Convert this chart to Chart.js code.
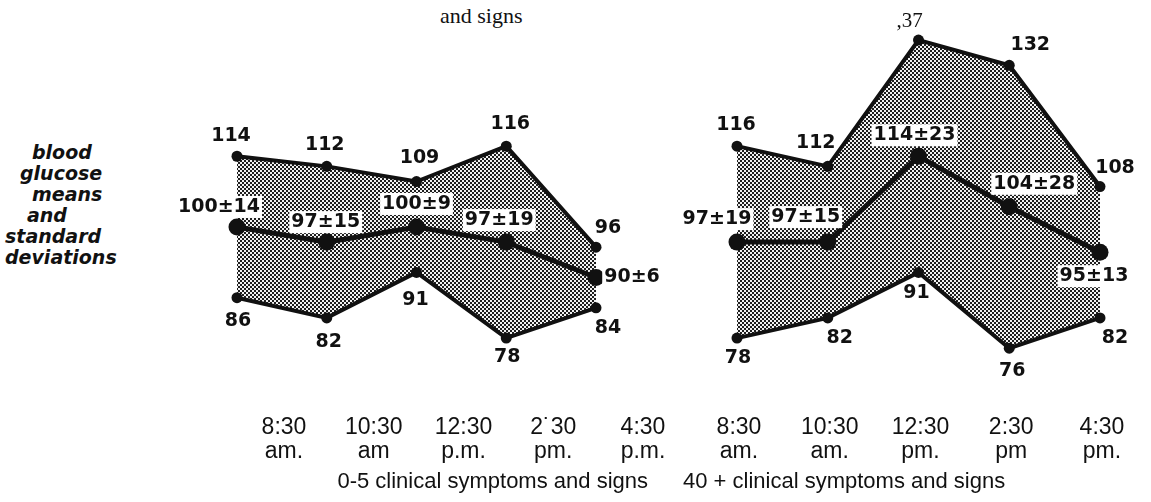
<!DOCTYPE html>
<html lang="en">
<head>
  <meta charset="UTF-8" />
  <title>Blood glucose means and standard deviations</title>
  <script src="https://cdn.jsdelivr.net/npm/chart.js"></script>
  <style>
    body { margin: 0; background: #fff; }
    #wrap { position: relative; width: 1151px; height: 502px; overflow: hidden; }
    #wrap canvas { position: absolute; left: 0; top: 0; }
    .txt { position: absolute; color: #111; white-space: nowrap; }
    .cap { font: 22px "Liberation Sans", Arial, sans-serif; top: 468px; }
    .ylab { font: italic bold 19px "DejaVu Sans", sans-serif; line-height: 21px; }
  </style>
</head>
<body>
  <div id="wrap">
    <div class="txt" style="left:440px; top:3px; font:22px 'Liberation Serif', serif;">and signs</div>

    <!-- left axis caption -->
    <div class="txt ylab" style="left:32px; top:142px;">blood</div>
    <div class="txt ylab" style="left:20px; top:163px;">glucose</div>
    <div class="txt ylab" style="left:32px; top:184px;">means</div>
    <div class="txt ylab" style="left:27px; top:205px;">and</div>
    <div class="txt ylab" style="left:5px; top:226px;">standard</div>
    <div class="txt ylab" style="left:5px; top:247px;">deviations</div>

    <canvas id="leftChart" width="1151" height="502"></canvas>
    <canvas id="rightChart" width="1151" height="502"></canvas>

    <div class="txt cap" style="right:503px;">0-5 clinical symptoms and signs</div>
    <div class="txt cap" style="left:683px;">40 + clinical symptoms and signs</div>
  </div>

  <script>
    // ---- data ----
    const leftTimes = [["8:30", "am."], ["10:30", "am"], ["12:30", "p.m."], ["2\u02D930", "pm."], ["4:30", "p.m."]];
    const rightTimes = [["8:30", "am."], ["10:30", "am."], ["12:30", "pm."], ["2:30", "pm"], ["4:30", "pm."]];

    const leftUpper = [114, 112, 109, 116, 96];
    const leftMean = [100, 97, 100, 97, 90];
    const leftSd = [14, 15, 9, 19, 6];
    const leftLower = [86, 82, 91, 78, 84];

    const rightUpper = [116, 112, 137, 132, 108];
    const rightMean = [97, 97, 114, 104, 95];
    const rightSd = [19, 15, 23, 28, 13];
    const rightLower = [78, 82, 91, 76, 82];
    const rightUpperText = ["116", "112", ",37", "132", "108"];

    // label offsets from each point (px)
    const leftOffsets = {
      upper: [[-6, -20], [-2, -21], [3, -23], [4, -22], [12, -19]],
      mean: [[-18, -20], [-1, -20], [0, -23], [-7, -22], [36, 0]],
      lower: [[1, 23], [2, 24], [-1, 28], [1, 19], [12, 20]]
    };
    const rightOffsets = {
      upper: [[-1, -21], [-12, -23], [-9, -19], [21, -20], [15, -19]],
      mean: [[-20, -23], [-22, -25], [-4, -21], [25, -23], [-6, 24]],
      lower: [[1, 20], [12, 20], [-2, 21], [3, 23], [15, 20]]
    };

    const labelFont = 'bold 19px "DejaVu Sans", sans-serif';

    function stipple() {
      const c = document.createElement("canvas");
      c.width = 4; c.height = 4;
      const g = c.getContext("2d");
      g.fillStyle = "#f2f2f2";
      g.fillRect(0, 0, 4, 4);
      g.fillStyle = "#1e1e1e";
      g.fillRect(0, 0, 2, 2);
      g.fillRect(2, 2, 2, 2);
      return g.createPattern(c, "repeat");
    }

    // draws the value labels next to each point
    const pointLabels = {
      id: "pointLabels",
      afterDatasetsDraw(chart) {
        const ctx = chart.ctx;
        ctx.save();
        ctx.textAlign = "center";
        ctx.textBaseline = "middle";
        chart.data.datasets.forEach((ds, di) => {
          if (!ds.labelText) return;
          const meta = chart.getDatasetMeta(di);
          meta.data.forEach((pt, i) => {
            const txt = ds.labelText[i];
            const [dx, dy] = ds.labelOffsets[i];
            const x = pt.x + dx, y = pt.y + dy;
            ctx.font = txt.startsWith(",") ? '21px "Liberation Serif", serif' : labelFont;
            if (ds.labelBox) {
              const w = ctx.measureText(txt).width;
              ctx.fillStyle = "#fff";
              ctx.fillRect(x - w / 2 - 2, y - 11, w + 4, 22);
            }
            ctx.fillStyle = "#111";
            ctx.fillText(txt, x, y);
          });
        });
        ctx.restore();
      }
    };

    function panel(id, times, upper, mean, sd, lower, upperText, offs, padLeft, padRight, tickShift) {
      const pattern = stipple();
      return new Chart(document.getElementById(id), {
        type: "line",
        data: {
          labels: times,
          datasets: [
            {
              data: upper, borderColor: "#111", borderWidth: 4, pointRadius: 5.5,
              pointBackgroundColor: "#111", pointBorderWidth: 0, backgroundColor: pattern,
              fill: 2, clip: false,
              labelText: upperText || upper.map(String), labelOffsets: offs.upper
            },
            {
              data: mean, borderColor: "#111", borderWidth: 5, pointRadius: 8.5,
              pointBackgroundColor: "#111", pointBorderWidth: 0, fill: false, clip: false,
              labelText: mean.map((m, i) => m + "\u00B1" + sd[i]), labelOffsets: offs.mean, labelBox: true
            },
            {
              data: lower, borderColor: "#111", borderWidth: 4, pointRadius: 5.5,
              pointBackgroundColor: "#111", pointBorderWidth: 0, fill: false, clip: false,
              labelText: lower.map(String), labelOffsets: offs.lower
            }
          ]
        },
        options: {
          responsive: false,
          animation: false,
          layout: { padding: { left: padLeft, right: padRight, top: 30, bottom: 0 } },
          elements: { line: { tension: 0 } },
          scales: {
            x: {
              offset: false,
              grid: { display: false },
              border: { display: false },
              afterFit: s => { s.height = 122; },
              ticks: {
                color: "#111",
                font: { family: '"Liberation Sans", Arial, sans-serif', size: 23, lineHeight: 1.04 },
                padding: 28,
                labelOffset: tickShift,
                maxRotation: 0,
                autoSkip: false
              }
            },
            y: { display: false, min: 69.7, max: 139 }
          },
          plugins: {
            legend: { display: false },
            tooltip: { enabled: false },
            filler: { drawTime: "beforeDatasetsDraw" }
          }
        },
        plugins: [pointLabels]
      });
    }

    panel("leftChart", leftTimes, leftUpper, leftMean, leftSd, leftLower, null, leftOffsets, 237, 555, 47);
    panel("rightChart", rightTimes, rightUpper, rightMean, rightSd, rightLower, rightUpperText, rightOffsets, 737, 51, 2);
  </script>
</body>
</html>
